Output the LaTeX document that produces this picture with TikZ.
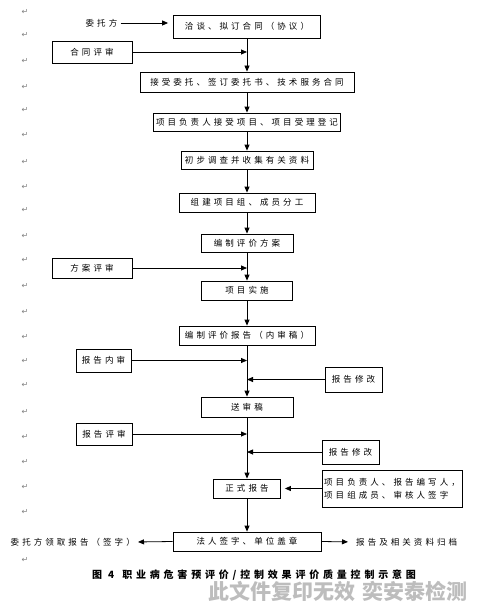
\documentclass[tikz,border=0pt]{standalone}
\usepackage{fontspec}
\setmainfont{Noto Sans CJK SC}[LetterSpace=36]
\newfontfamily\capfont{Noto Sans CJK SC}[LetterSpace=38]
\newfontfamily\wmfont{Noto Sans CJK SC}
\newfontfamily\markfont{DejaVu Sans}
\usetikzlibrary{arrows.meta}
\tikzset{
  box/.style={draw, line width=0.8pt, inner sep=0pt, align=center, font=\fontsize{8.5}{11}\selectfont},
  plain/.style={inner sep=0pt, font=\fontsize{8.5}{11}\selectfont},
  arr/.style={line width=0.8pt, -{Triangle[length=6pt,width=5pt]}},
  pmark/.style={text=black!50, font=\markfont\fontsize{8}{9}\selectfont, inner sep=0pt}
}
\begin{document}
\begin{tikzpicture}[x=1pt,y=-1pt]
\useasboundingbox (0,0) rectangle (479,602);
\fill[white] (0,0) rectangle (479,602);
% paragraph marks
\foreach \i/\yy in {m1/12,m2/35,m3/61,m4/87,m5/110,m6/135,m7/162,m8/187,m9/210,m10/236,m11/260,m12/286,m13/312,m14/337,m15/361,m16/385,m17/412,m18/437,m19/462,m20/487,m21/512,m22/560}
  \node[pmark] (\i) at (25,\yy) {↵};
% main boxes
\node[box, minimum width=147pt, minimum height=23pt] (b1) at (247,26.5) {洽谈、拟订合同（协议）};
\node[box, minimum width=214pt, minimum height=20pt] (b2) at (247,82) {接受委托、签订委托书、技术服务合同};
\node[box, minimum width=187pt, minimum height=18pt] (b3) at (247,122) {项目负责人接受项目、项目受理登记};
\node[box, minimum width=132pt, minimum height=18pt] (b4) at (247,160) {初步调查并收集有关资料};
\node[box, minimum width=136pt, minimum height=19pt] (b5) at (247,202.5) {组建项目组、成员分工};
\node[box, minimum width=92pt, minimum height=18pt] (b6) at (247,243) {编制评价方案};
\node[box, minimum width=91pt, minimum height=19pt] (b7) at (247,290.5) {项目实施};
\node[box, minimum width=136pt, minimum height=19pt] (b8) at (247,335.5) {编制评价报告（内审稿）};
\node[box, minimum width=92pt, minimum height=20pt] (b9) at (247,407) {送审稿};
\node[box, minimum width=67pt, minimum height=19pt] (b10) at (247,488.5) {正式报告};
\node[box, minimum width=148pt, minimum height=19pt] (b11) at (247,541.5) {法人签字、单位盖章};
% side boxes
\node[plain] (wtf) at (101.5,23) {委托方};
\node[box, minimum width=80pt, minimum height=22pt] (hts) at (92,52) {合同评审};
\node[box, minimum width=80pt, minimum height=20pt] (fas) at (92,268) {方案评审};
\node[box, minimum width=55pt, minimum height=23pt] (bgn) at (103.5,360.5) {报告内审};
\node[box, minimum width=57pt, minimum height=25pt] (xg1) at (353.5,379.5) {报告修改};
\node[box, minimum width=56pt, minimum height=22pt] (bgp) at (104,434) {报告评审};
\node[box, minimum width=57pt, minimum height=24pt] (xg2) at (350.5,452) {报告修改};
\node[box, minimum width=140pt, minimum height=37pt, align=left, font=\fontsize{8.5}{13}\selectfont] (sig) at (392,488.5) {项目负责人、报告编写人，\\项目组成员、审核人签字};
\node[plain, anchor=east] (lq) at (135,542) {委托方领取报告（签字）};
\node[plain, anchor=west] (gd) at (356,542) {报告及相关资料归档};
% main flow
\draw[arr] (b1) -- (b2);
\draw[arr] (b2) -- (b3);
\draw[arr] (b3) -- (b4);
\draw[arr] (b4) -- (b5);
\draw[arr] (b5) -- (b6);
\draw[arr] (b6) -- (b7);
\draw[arr] (b7) -- (b8);
\draw[arr] (b8) -- (b9);
\draw[arr] (b9) -- (b10);
\draw[arr] (b10) -- (b11);
% side arrows
\draw[arr, shorten >=5pt] (wtf.east) ++(3,0) coordinate (wtfe) (wtfe) -- (b1.west |- wtf.east);
\draw[arr] (hts.east) -- (hts.east -| b1.south);
\draw[arr] (fas.east) -- (fas.east -| b1.south);
\draw[arr] (bgn.east) -- (bgn.east -| b1.south);
\draw[arr] (xg1.west) -- (xg1.west -| b1.south);
\draw[arr] (bgp.east) -- (bgp.east -| b1.south);
\draw[arr] (xg2.west) -- (xg2.west -| b1.south);
\draw[arr, shorten >=4pt] (sig.west |- b10.east) -- (b10.east);
\draw[arr, shorten >=3pt] (b11.west) -- (lq.east);
\draw[arr, shorten >=8pt] (b11.east) -- (gd.west);
% caption
\node[inner sep=0pt, font=\capfont\fontsize{10}{12}\selectfont\bfseries] (cap) at (254,575) {图 4\hspace{8pt}职业病危害预评价/控制效果评价质量控制示意图};
% watermark
\node[inner sep=0pt, text=black!30, opacity=0.85, font=\wmfont\fontsize{21}{23}\selectfont\bfseries] (wm) at (338,591) {此文件复印无效\hspace{8pt}奕安泰检测};
\end{tikzpicture}
\end{document}
